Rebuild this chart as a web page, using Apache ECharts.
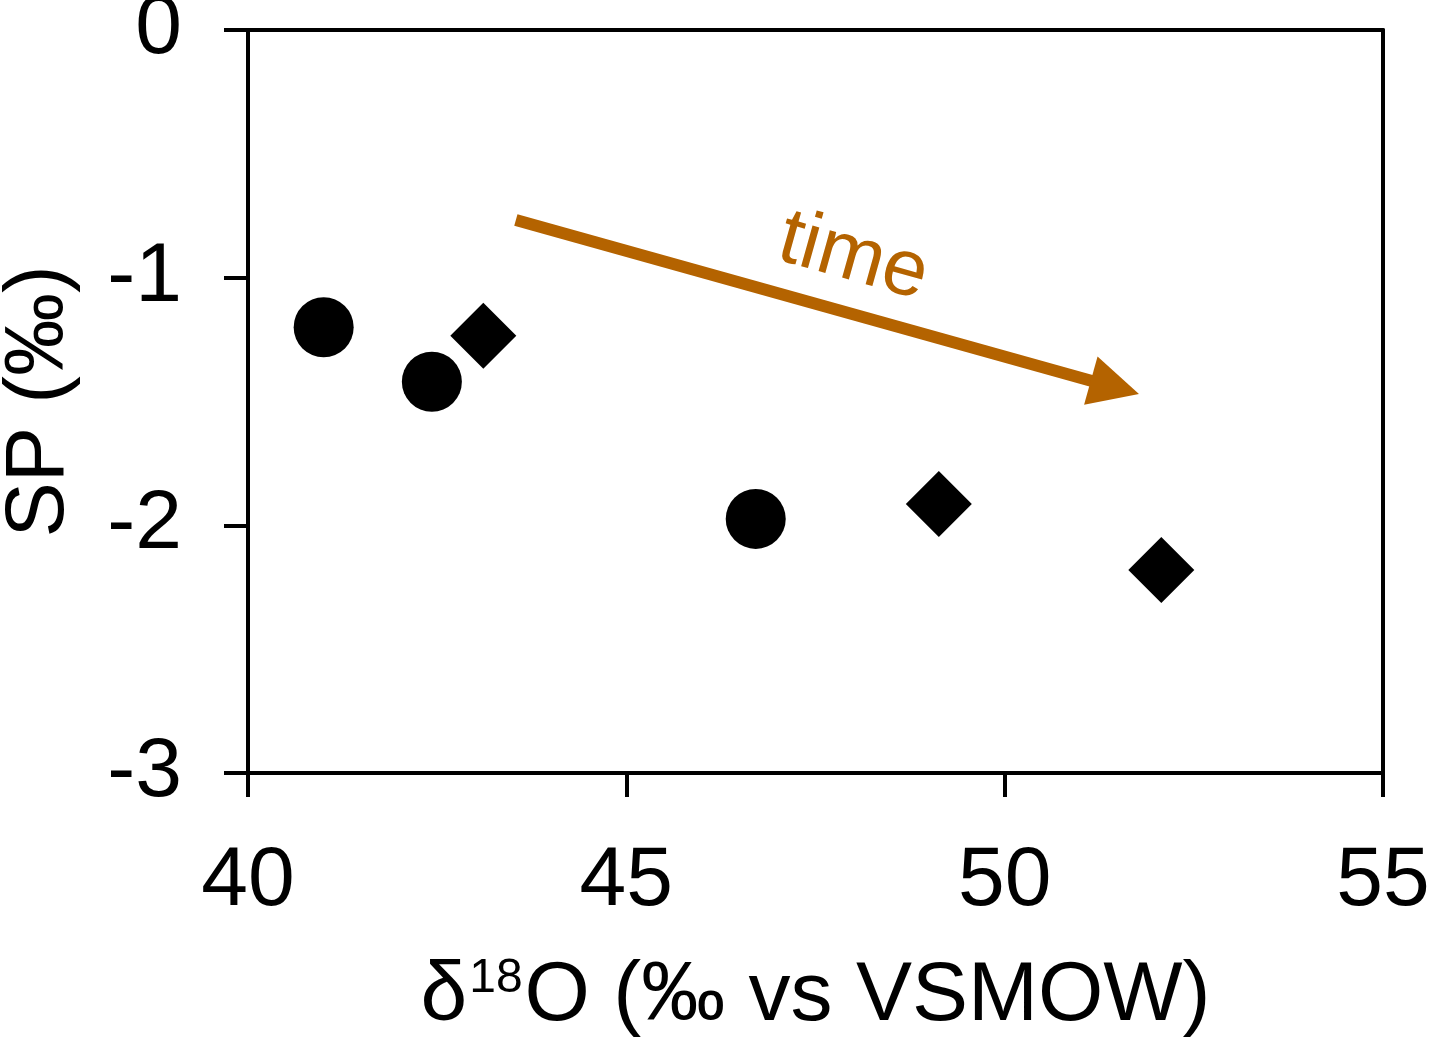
<!DOCTYPE html>
<html>
<head>
<meta charset="utf-8">
<script src="https://cdn.jsdelivr.net/npm/echarts@6/dist/echarts.min.js"></script>
<style>
html,body{margin:0;padding:0;background:#fff;}
#chart{width:1436px;height:1043px;}
</style>
</head>
<body>
<div id="chart"></div>
<script>
// ---- data ----
const circleX = [41.0, 42.43, 46.71];
const circleY = [-1.20, -1.42, -1.974];
const diamondX = [43.11, 49.13, 52.07];
const diamondY = [-1.235, -1.914, -2.18];
const xTicks = [40, 45, 50, 55];
const yTicks = [-3, -2, -1, 0];
const arrowStart = [43.54, -0.767];
const arrowEnd = [51.775, -1.470];
const timeLabelPos = [48.0, -0.92];
const timeLabel = 'time';
const xName = 'δ18O (‰ vs VSMOW)';
const yName = 'SP (‰)';

const FONT = '"Liberation Sans", Arial, Helvetica, sans-serif';
const ORANGE = '#b46300';
const FS = 84;

const chart = echarts.init(document.getElementById('chart'));
const circles = circleX.map((x, i) => [x, circleY[i]]);
const diamonds = diamondX.map((x, i) => [x, diamondY[i]]);

const boxAxis = {
  axisLine: {show: true, onZero: false, lineStyle: {color: '#000', width: 4}},
  axisTick: {show: false}, axisLabel: {show: false}, splitLine: {show: false}
};

chart.setOption({
  animation: false,
  backgroundColor: '#fff',
  grid: {left: 248, right: 53, top: 30, bottom: 270, outerBoundsMode: 'none', containLabel: false},
  xAxis: [{
    type: 'value', min: xTicks[0], max: xTicks[xTicks.length - 1], interval: 5,
    axisLine: {show: true, onZero: false, lineStyle: {color: '#000', width: 4}},
    axisTick: {show: true, inside: false, length: 24, lineStyle: {color: '#000', width: 4}},
    axisLabel: {fontSize: FS, color: '#000', fontFamily: FONT, margin: 67},
    splitLine: {show: false}, minorTick: {show: false},
    name: '{m|δ}{s|18}{m|O (‰ vs VSMOW)}',
    nameLocation: 'middle', nameGap: 182,
    nameTextStyle: {
      fontSize: FS, color: '#000', fontFamily: FONT, lineHeight: FS,
      rich: {
        m: {fontSize: FS, color: '#000', fontFamily: FONT, lineHeight: FS},
        s: {fontSize: 48, color: '#000', fontFamily: FONT, verticalAlign: 'top', padding: [0, 2, 0, 2]}
      }
    }
  }, Object.assign({type: 'value', position: 'top', min: xTicks[0], max: xTicks[xTicks.length - 1], interval: 5}, boxAxis)],
  yAxis: [{
    type: 'value', min: yTicks[0], max: yTicks[yTicks.length - 1], interval: 1,
    axisLine: {show: true, onZero: false, lineStyle: {color: '#000', width: 4}},
    axisTick: {show: true, inside: false, length: 24, lineStyle: {color: '#000', width: 4}},
    axisLabel: {fontSize: FS, color: '#000', fontFamily: FONT, margin: 66},
    splitLine: {show: false},
    name: yName, nameLocation: 'middle', nameRotate: 90, nameGap: 166,
    nameTextStyle: {fontSize: 83, color: '#000', fontFamily: FONT}
  }, Object.assign({type: 'value', position: 'right', min: yTicks[0], max: yTicks[yTicks.length - 1], interval: 1}, boxAxis)],
  series: [
    {type: 'scatter', data: circles, symbol: 'circle', symbolSize: 60, itemStyle: {color: '#000', opacity: 1}, silent: true},
    {type: 'scatter', data: diamonds, symbol: 'diamond', symbolSize: 66, itemStyle: {color: '#000', opacity: 1}, silent: true},
    {
      type: 'custom', silent: true,
      data: [[arrowStart[0], arrowStart[1], arrowEnd[0], arrowEnd[1]]],
      renderItem: function (params, api) {
        const p0 = api.coord([api.value(0), api.value(1)]);
        const p1 = api.coord([api.value(2), api.value(3)]);
        const dx = p1[0] - p0[0], dy = p1[1] - p0[1];
        const len = Math.hypot(dx, dy);
        const ux = dx / len, uy = dy / len, nx = -uy, ny = ux;
        const headLen = 50, half = 25;
        const b = [p1[0] - ux * headLen, p1[1] - uy * headLen];
        return {type: 'group', children: [
          {type: 'line', shape: {x1: p0[0], y1: p0[1], x2: b[0] + ux * 3, y2: b[1] + uy * 3}, style: {stroke: ORANGE, lineWidth: 12, lineCap: 'butt'}},
          {type: 'polygon', shape: {points: [p1, [b[0] + nx * half, b[1] + ny * half], [b[0] - nx * half, b[1] - ny * half]]}, style: {fill: ORANGE}}
        ]};
      }
    },
    {
      type: 'custom', silent: true,
      data: [[timeLabelPos[0], timeLabelPos[1], arrowStart[0], arrowStart[1], arrowEnd[0], arrowEnd[1]]],
      renderItem: function (params, api) {
        const p = api.coord([api.value(0), api.value(1)]);
        const a = api.coord([api.value(2), api.value(3)]);
        const c = api.coord([api.value(4), api.value(5)]);
        const ang = Math.atan2(c[1] - a[1], c[0] - a[0]);
        return {type: 'text', x: p[0], y: p[1], rotation: -ang,
          style: {text: timeLabel, fontSize: 80, fontFamily: FONT, fill: ORANGE, align: 'center', verticalAlign: 'middle'}};
      }
    }
  ]
});
</script>
</body>
</html>
